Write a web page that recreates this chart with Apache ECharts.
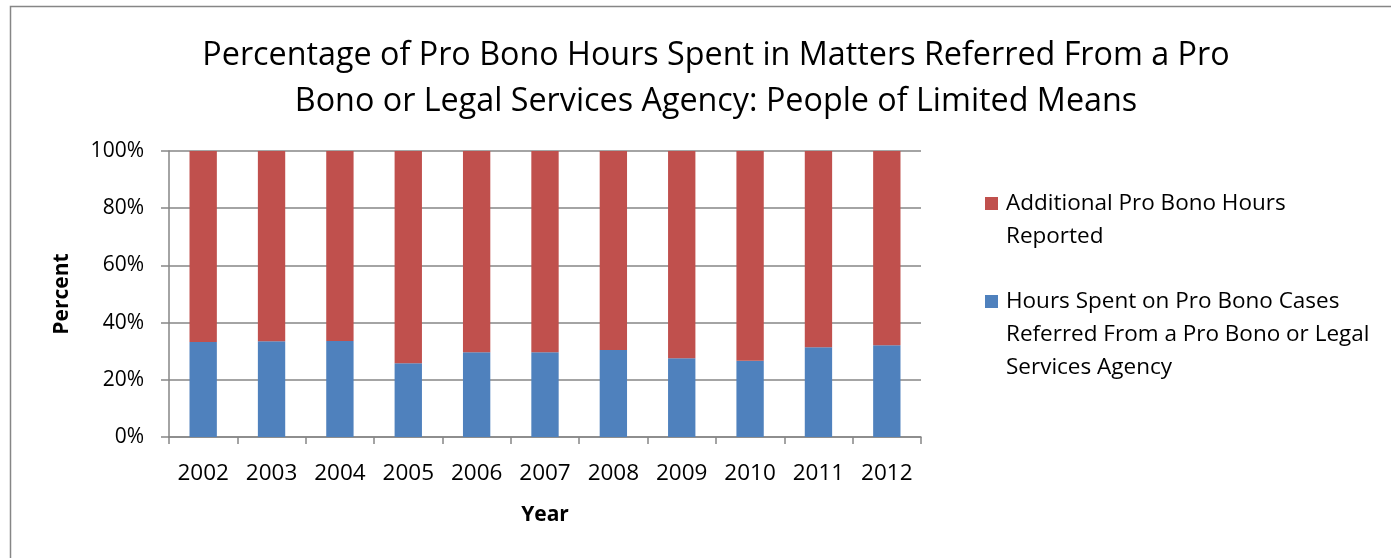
<!DOCTYPE html>
<html><head><meta charset="utf-8">
<script src="https://cdn.jsdelivr.net/npm/echarts@6/dist/echarts.min.js"></script>
<style>html,body{margin:0;padding:0;background:#fff}#c{width:1391px;height:558px}</style>
</head><body><div id="c"></div>
<script>
const years = ['2002','2003','2004','2005','2006','2007','2008','2009','2010','2011','2012'];
const referredPct = [33.2,33.5,33.6,25.8,29.6,29.6,30.4,27.5,26.7,31.4,32.1];
const additionalPct = [66.8,66.5,66.4,74.2,70.4,70.4,69.6,72.5,73.3,68.6,67.9];
const seriesNames = ['Hours Spent on Pro Bono Cases Referred From a Pro Bono or Legal Services Agency','Additional Pro Bono Hours Reported'];
const legendLines = [['Additional Pro Bono Hours','Reported'],['Hours Spent on Pro Bono Cases','Referred From a Pro Bono or Legal','Services Agency']];
const colors = ['#4F81BD','#C0504D'];
const FONT = '"Open Sans", Lato, sans-serif';

const chart = echarts.init(document.getElementById('c'));
const legendGraphics = [];
const legendOrder = [1,0];
const legendTops = [197, 295];
legendOrder.forEach((si,i)=>{
  legendGraphics.push({type:'rect',shape:{x:985,y:legendTops[i],width:13,height:13},style:{fill:colors[si]}});
  legendGraphics.push({type:'text',x:1006,y:legendTops[i]-10,style:{text:legendLines[i].join('\n'),fill:'#000',font:'22.5px '+FONT,lineHeight:33}});
});
chart.setOption({
  animation:false,
  title:{text:'Percentage of Pro Bono Hours Spent in Matters Referred From a Pro\nBono or Legal Services Agency: People of Limited Means',left:711,textAlign:'center',top:28,
    textStyle:{fontFamily:FONT,fontSize:32.3,fontWeight:'normal',color:'#000',lineHeight:46}},
  grid:{left:169,right:470,top:151,bottom:121,containLabel:false},
  xAxis:{type:'category',data:years,name:'Year',nameLocation:'middle',nameGap:68,
    nameTextStyle:{fontFamily:FONT,fontSize:21,fontWeight:'bold',color:'#000'},
    axisLine:{lineStyle:{color:'#868686',width:1.5}},
    axisTick:{show:true,alignWithLabel:false,length:7,lineStyle:{color:'#868686',width:1.5}},
    axisLabel:{fontFamily:FONT,fontSize:22.5,color:'#000',margin:25}},
  yAxis:{type:'value',min:0,max:100,interval:20,name:'Percent',nameLocation:'middle',nameGap:96,
    nameTextStyle:{fontFamily:FONT,fontSize:21,fontWeight:'bold',color:'#000'},
    axisLine:{show:true,lineStyle:{color:'#868686',width:1.5}},
    axisTick:{show:true,length:8,lineStyle:{color:'#868686',width:1.5}},
    splitLine:{lineStyle:{color:'#868686',width:1.5}},
    axisLabel:{fontFamily:FONT,fontSize:21,color:'#000',margin:25,formatter:'{value}%'}},
  graphic:[{type:'rect',shape:{x:10.5,y:6.5,width:1400,height:560},style:{fill:'none',stroke:'#868686',lineWidth:1.5}}].concat(legendGraphics),
  series:[
    {name:seriesNames[0],type:'bar',stack:'a',data:referredPct,barWidth:'40%',itemStyle:{color:colors[0]}},
    {name:seriesNames[1],type:'bar',stack:'a',data:additionalPct,barWidth:'40%',itemStyle:{color:colors[1]}}
  ]
});
</script></body></html>
